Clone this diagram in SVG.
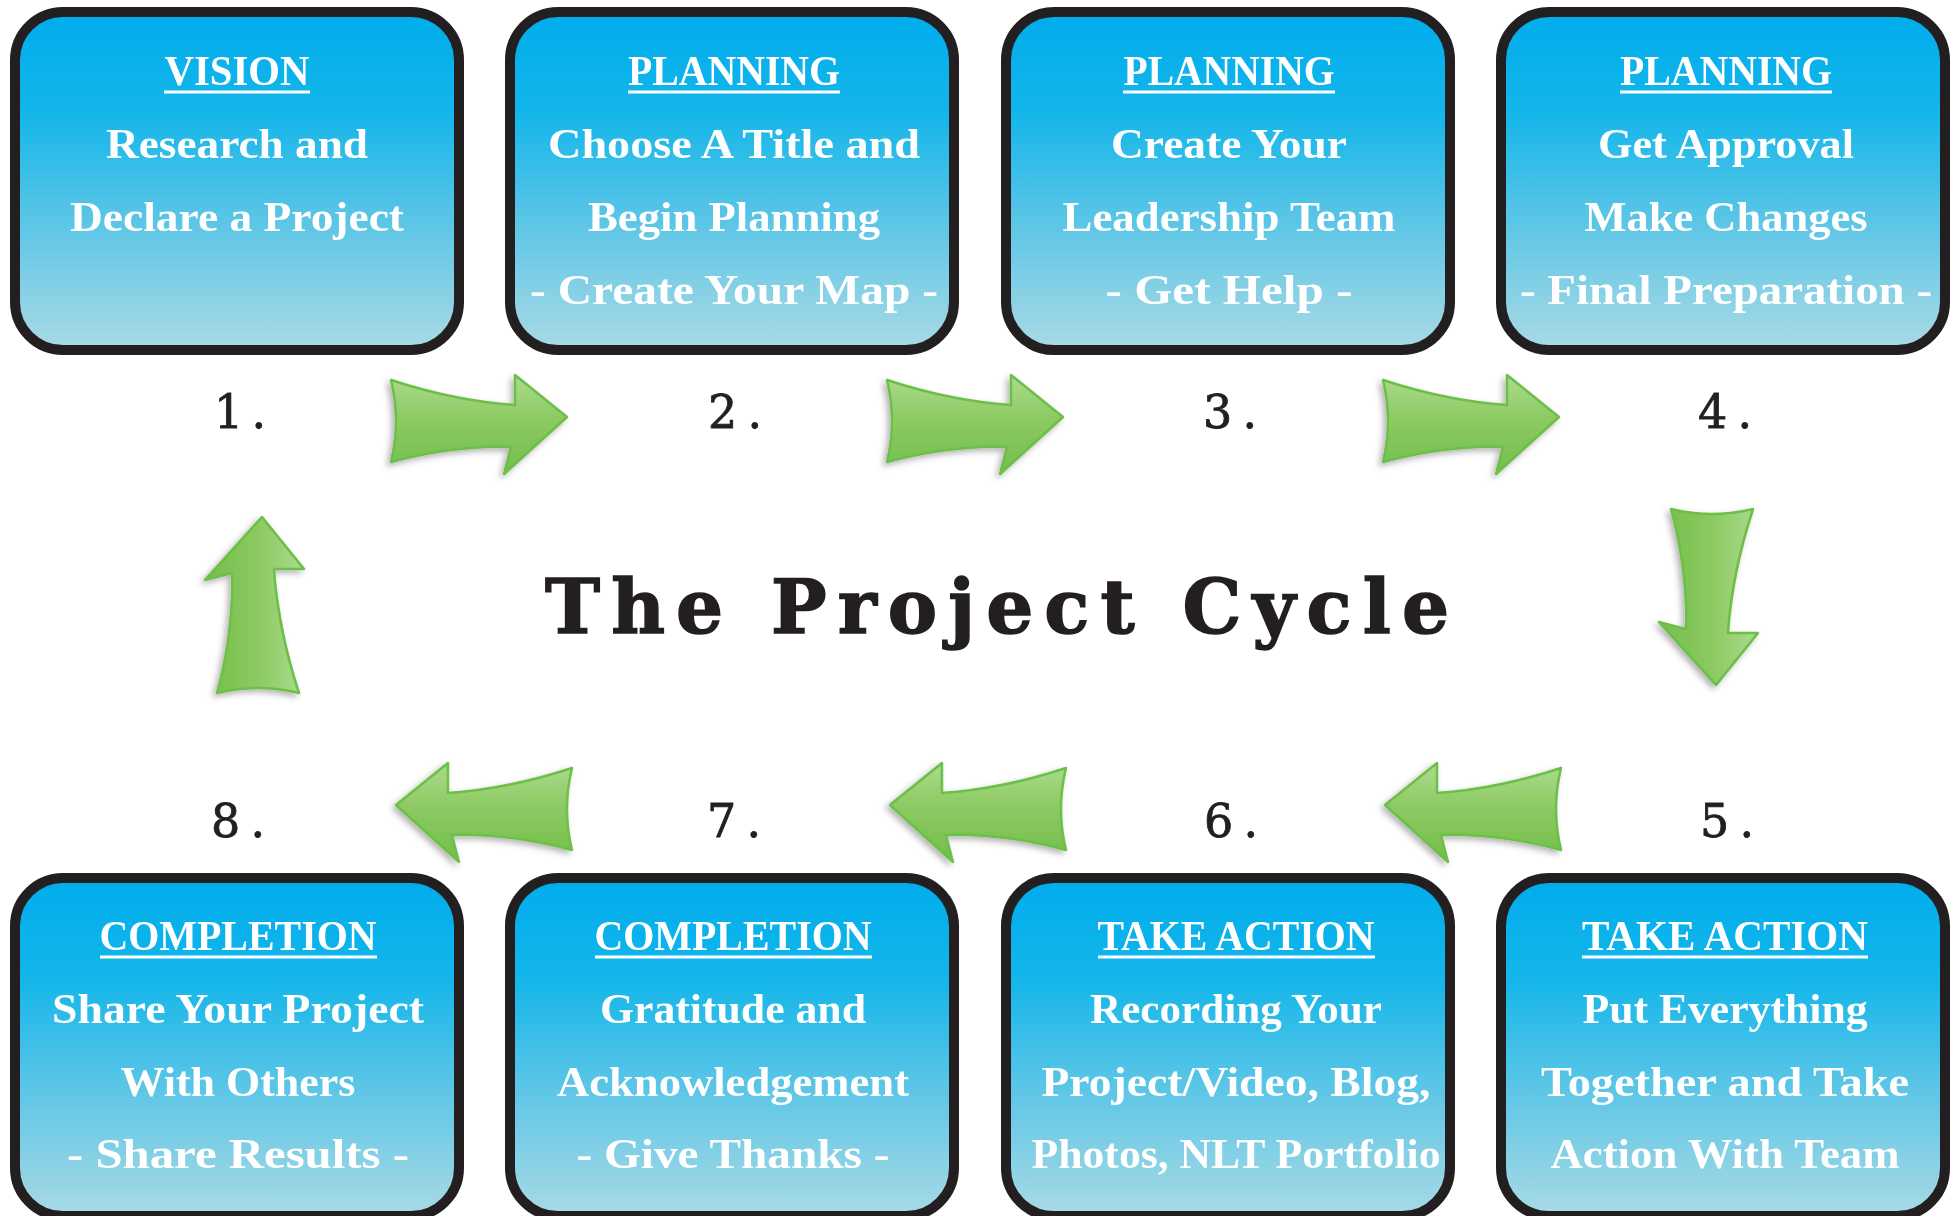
<svg xmlns="http://www.w3.org/2000/svg" width="1957" height="1216" viewBox="0 0 1957 1216">
<defs>
<linearGradient id="boxGrad" x1="0" y1="0" x2="0" y2="1">
<stop offset="0" stop-color="#00acec"/>
<stop offset="0.3" stop-color="#14b6ea"/>
<stop offset="0.65" stop-color="#62c7e6"/>
<stop offset="1" stop-color="#a9dae5"/>
</linearGradient>
<linearGradient id="arrowGrad" x1="0" y1="0" x2="0" y2="1">
<stop offset="0" stop-color="#acdb8e"/>
<stop offset="0.45" stop-color="#8cca62"/>
<stop offset="1" stop-color="#74be4a"/>
</linearGradient>
<filter id="shadow" x="-10%" y="-10%" width="120%" height="120%">
<feDropShadow dx="-3" dy="3" stdDeviation="3" flood-color="#000" flood-opacity="0.3"/>
</filter>
<path id="arrowR" d="M0,0 L-52,-42 L-52,-12 Q-112,-16 -176,-37 Q-166,4 -176,45 Q-112,28 -56,30 L-63,57 Z"/>
<style>
.box{fill:url(#boxGrad);stroke:#231f20;stroke-width:10}
.t{font-family:"Liberation Serif",serif;font-weight:bold;font-size:43px;fill:#fff;text-anchor:middle}
.u{stroke:#fff;stroke-width:3}
.num{font-family:"DejaVu Serif",serif;font-size:46px;fill:#231f20;stroke:#231f20;stroke-width:0.8;text-anchor:middle}
.title{font-family:"DejaVu Serif",serif;font-weight:bold;font-size:74px;fill:#231f20;stroke:#231f20;stroke-width:1.5;text-anchor:middle}
.arrow{fill:url(#arrowGrad);stroke:#6cbf48;stroke-width:2.5;stroke-linejoin:round}
</style>
</defs>
<rect width="1957" height="1216" fill="#fff"/>

<g id="connectors" filter="url(#shadow)">
<use href="#arrowR" class="arrow" transform="translate(567,417)"/>
<use href="#arrowR" class="arrow" transform="translate(1063,417)"/>
<use href="#arrowR" class="arrow" transform="translate(1559,417)"/>
<use href="#arrowR" class="arrow" transform="translate(1716,685) rotate(90)"/>
<use href="#arrowR" class="arrow" transform="translate(1385,805) scale(-1,1)"/>
<use href="#arrowR" class="arrow" transform="translate(890,805) scale(-1,1)"/>
<use href="#arrowR" class="arrow" transform="translate(396,805) scale(-1,1)"/>
<use href="#arrowR" class="arrow" transform="translate(262,517) rotate(-90) scale(1,-1)"/>
</g>

<g id="title">
<text class="title" x="997" y="633" textLength="904" lengthAdjust="spacing">The Project Cycle</text>
</g>

<g id="step1">
<rect class="box" x="15" y="12" width="444" height="338" rx="48"/>
<text class="t" x="237" y="85" textLength="145" lengthAdjust="spacingAndGlyphs">VISION</text>
<line class="u" x1="164" y1="92" x2="310" y2="92"/>
<text class="t" x="237" y="158" textLength="262" lengthAdjust="spacingAndGlyphs">Research and</text>
<text class="t" x="237" y="231" textLength="334" lengthAdjust="spacingAndGlyphs">Declare a Project</text>
<text class="num" x="240" y="428" textLength="52" lengthAdjust="spacing">1.</text>
</g>

<g id="step2">
<rect class="box" x="510" y="12" width="444" height="338" rx="48"/>
<text class="t" x="734" y="85" textLength="212" lengthAdjust="spacingAndGlyphs">PLANNING</text>
<line class="u" x1="628" y1="92" x2="840" y2="92"/>
<text class="t" x="734" y="158" textLength="372" lengthAdjust="spacingAndGlyphs">Choose A Title and</text>
<text class="t" x="734" y="231" textLength="292" lengthAdjust="spacingAndGlyphs">Begin Planning</text>
<text class="t" x="734" y="304" textLength="408" lengthAdjust="spacingAndGlyphs">- Create Your Map -</text>
<text class="num" x="735" y="428" textLength="54" lengthAdjust="spacing">2.</text>
</g>

<g id="step3">
<rect class="box" x="1006" y="12" width="444" height="338" rx="48"/>
<text class="t" x="1229" y="85" textLength="211" lengthAdjust="spacingAndGlyphs">PLANNING</text>
<line class="u" x1="1123" y1="92" x2="1335" y2="92"/>
<text class="t" x="1229" y="158" textLength="236" lengthAdjust="spacingAndGlyphs">Create Your</text>
<text class="t" x="1229" y="231" textLength="333" lengthAdjust="spacingAndGlyphs">Leadership Team</text>
<text class="t" x="1229" y="304" textLength="247" lengthAdjust="spacingAndGlyphs">- Get Help -</text>
<text class="num" x="1230" y="428" textLength="54" lengthAdjust="spacing">3.</text>
</g>

<g id="step4">
<rect class="box" x="1501" y="12" width="444" height="338" rx="48"/>
<text class="t" x="1726" y="85" textLength="212" lengthAdjust="spacingAndGlyphs">PLANNING</text>
<line class="u" x1="1620" y1="92" x2="1832" y2="92"/>
<text class="t" x="1726" y="158" textLength="256" lengthAdjust="spacingAndGlyphs">Get Approval</text>
<text class="t" x="1726" y="231" textLength="283" lengthAdjust="spacingAndGlyphs">Make Changes</text>
<text class="t" x="1726" y="304" textLength="412" lengthAdjust="spacingAndGlyphs">- Final Preparation -</text>
<text class="num" x="1725" y="428" textLength="54" lengthAdjust="spacing">4.</text>
</g>

<g id="step5">
<rect class="box" x="1501" y="878" width="444" height="338" rx="48"/>
<text class="t" x="1725" y="950" textLength="286" lengthAdjust="spacingAndGlyphs">TAKE ACTION</text>
<line class="u" x1="1582" y1="957" x2="1868" y2="957"/>
<text class="t" x="1725" y="1023" textLength="285" lengthAdjust="spacingAndGlyphs">Put Everything</text>
<text class="t" x="1725" y="1096" textLength="368" lengthAdjust="spacingAndGlyphs">Together and Take</text>
<text class="t" x="1725" y="1168" textLength="349" lengthAdjust="spacingAndGlyphs">Action With Team</text>
<text class="num" x="1727" y="837" textLength="54" lengthAdjust="spacing">5.</text>
</g>

<g id="step6">
<rect class="box" x="1006" y="878" width="444" height="338" rx="48"/>
<text class="t" x="1236" y="950" textLength="277" lengthAdjust="spacingAndGlyphs">TAKE ACTION</text>
<line class="u" x1="1098" y1="957" x2="1375" y2="957"/>
<text class="t" x="1236" y="1023" textLength="292" lengthAdjust="spacingAndGlyphs">Recording Your</text>
<text class="t" x="1236" y="1096" textLength="389" lengthAdjust="spacingAndGlyphs">Project/Video, Blog,</text>
<text class="t" x="1236" y="1168" textLength="409" lengthAdjust="spacingAndGlyphs">Photos, NLT Portfolio</text>
<text class="num" x="1231" y="837" textLength="54" lengthAdjust="spacing">6.</text>
</g>

<g id="step7">
<rect class="box" x="510" y="878" width="444" height="338" rx="48"/>
<text class="t" x="733" y="950" textLength="277" lengthAdjust="spacingAndGlyphs">COMPLETION</text>
<line class="u" x1="595" y1="957" x2="872" y2="957"/>
<text class="t" x="733" y="1023" textLength="266" lengthAdjust="spacingAndGlyphs">Gratitude and</text>
<text class="t" x="733" y="1096" textLength="352" lengthAdjust="spacingAndGlyphs">Acknowledgement</text>
<text class="t" x="733" y="1168" textLength="313" lengthAdjust="spacingAndGlyphs">- Give Thanks -</text>
<text class="num" x="734" y="837" textLength="54" lengthAdjust="spacing">7.</text>
</g>

<g id="step8">
<rect class="box" x="15" y="878" width="444" height="338" rx="48"/>
<text class="t" x="238" y="950" textLength="277" lengthAdjust="spacingAndGlyphs">COMPLETION</text>
<line class="u" x1="100" y1="957" x2="377" y2="957"/>
<text class="t" x="238" y="1023" textLength="372" lengthAdjust="spacingAndGlyphs">Share Your Project</text>
<text class="t" x="238" y="1096" textLength="235" lengthAdjust="spacingAndGlyphs">With Others</text>
<text class="t" x="238" y="1168" textLength="342" lengthAdjust="spacingAndGlyphs">- Share Results -</text>
<text class="num" x="238" y="837" textLength="54" lengthAdjust="spacing">8.</text>
</g>
</svg>
